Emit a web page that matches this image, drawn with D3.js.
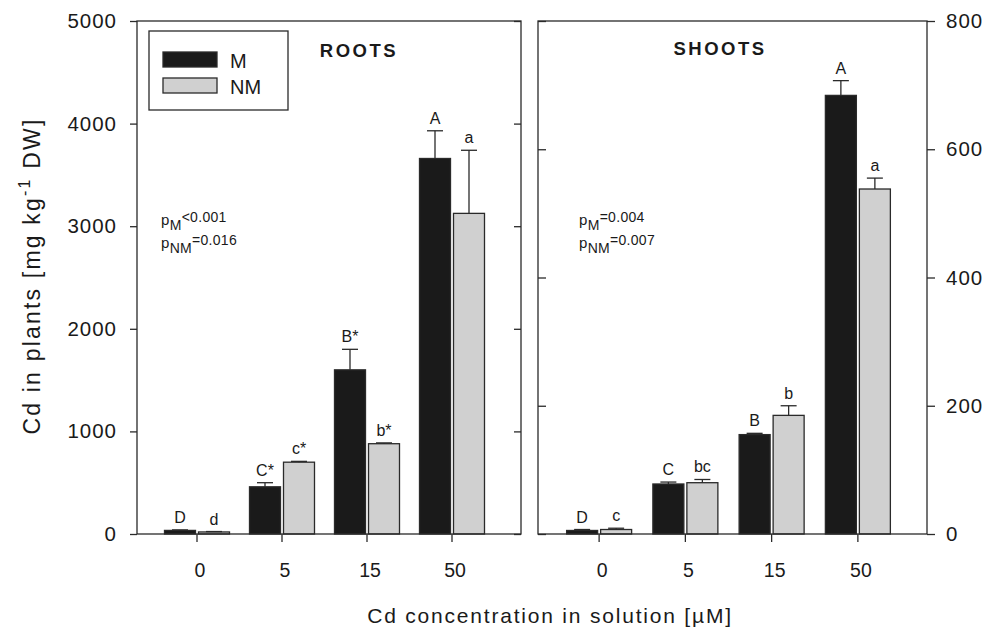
<!DOCTYPE html>
<html>
<head>
<meta charset="utf-8">
<script src="https://cdn.jsdelivr.net/npm/d3@7"></script>
<style>
  body { margin: 0; background: #fff; }
  svg text { font-family: "Liberation Sans", Arial, sans-serif; fill: #1a1a1a; }
</style>
</head>
<body>
<div class="container"></div>
<script>
const WIDTH = 987
const HEIGHT = 636

const concentrations = ['0', '5', '15', '50']
const groups = ['M', 'NM']

const rootsM = [35, 460, 1600, 3660]
const rootsMErr = [5, 40, 200, 270]
const rootsNM = [20, 700, 880, 3125]
const rootsNMErr = [4, 8, 8, 615]
const rootsMLetters = ['D', 'C*', 'B*', 'A']
const rootsNMLetters = ['d', 'c*', 'b*', 'a']

const shootsM = [5.5, 78, 155, 684]
const shootsMErr = [1.5, 3, 2, 23]
const shootsNM = [7, 80, 185, 538]
const shootsNMErr = [2, 5, 15, 17]
const shootsMLetters = ['D', 'C', 'B', 'A']
const shootsNMLetters = ['c', 'bc', 'b', 'a']

const rootsTicks = [0, 1000, 2000, 3000, 4000, 5000]
const shootsTicks = [0, 200, 400, 600, 800]

const COLORS = { M: '#1a1a1a', NM: '#d0d0d0' }
const LINE = '#2a2a2a'

const TOP = 21
const BOTTOM = 534

const svg = d3.select('.container')
  .append('svg')
  .attr('xmlns', 'http://www.w3.org/2000/svg')
  .attr('width', WIDTH)
  .attr('height', HEIGHT)

const rows = (m, mErr, nm, nmErr, mL, nmL) => concentrations.map((c, i) => [
  { c, g: 'M', v: m[i], e: mErr[i], label: mL[i] },
  { c, g: 'NM', v: nm[i], e: nmErr[i], label: nmL[i] }
]).flat()

const panels = [
  {
    name: 'ROOTS', left: 137, right: 521, band: [154.5, 494.5], max: 5000, ticks: rootsTicks,
    data: rows(rootsM, rootsMErr, rootsNM, rootsNMErr, rootsMLetters, rootsNMLetters),
    titleX: 359, titleY: 57, pX: 161, pLines: [['M', '<0.001'], ['NM', '=0.016']]
  },
  {
    name: 'SHOOTS', left: 538, right: 927, band: [556, 901], max: 800, ticks: shootsTicks,
    data: rows(shootsM, shootsMErr, shootsNM, shootsNMErr, shootsMLetters, shootsNMLetters),
    titleX: 720, titleY: 55, pX: 579, pLines: [['M', '=0.004'], ['NM', '=0.007']]
  }
]

const sub = d3.scaleBand().domain(groups).range([-32.5, 32.5]).paddingInner(3 / 34)

panels.forEach((p, pi) => {
  const y = d3.scaleLinear().domain([0, p.max]).range([BOTTOM, TOP])
  const x = d3.scaleBand().domain(concentrations).range(p.band)
  const cx = c => x(c) + x.bandwidth() / 2

  const g = svg.append('g')

  // bars
  g.selectAll('rect.bar')
    .data(p.data)
    .join('rect')
    .attr('class', 'bar')
    .attr('x', d => cx(d.c) + sub(d.g))
    .attr('y', d => y(d.v))
    .attr('width', sub.bandwidth())
    .attr('height', d => BOTTOM - y(d.v))
    .attr('fill', d => COLORS[d.g])
    .attr('stroke', LINE)
    .attr('stroke-width', 1.3)

  // error bars (upper only)
  const err = g.selectAll('g.err').data(p.data).join('g').attr('class', 'err')
    .attr('stroke', LINE).attr('stroke-width', 1.3)
  err.append('line')
    .attr('x1', d => cx(d.c) + sub(d.g) + sub.bandwidth() / 2)
    .attr('x2', d => cx(d.c) + sub(d.g) + sub.bandwidth() / 2)
    .attr('y1', d => y(d.v))
    .attr('y2', d => y(d.v + d.e))
  err.append('line')
    .attr('x1', d => cx(d.c) + sub(d.g) + sub.bandwidth() / 2 - 8)
    .attr('x2', d => cx(d.c) + sub(d.g) + sub.bandwidth() / 2 + 8)
    .attr('y1', d => y(d.v + d.e))
    .attr('y2', d => y(d.v + d.e))

  // significance letters
  g.selectAll('text.letter')
    .data(p.data)
    .join('text')
    .attr('class', 'letter')
    .attr('x', d => cx(d.c) + sub(d.g) + sub.bandwidth() / 2)
    .attr('y', d => y(d.v + d.e) - 7)
    .attr('text-anchor', 'middle')
    .style('font-size', '16px')
    .text(d => d.label)

  // frame
  g.append('rect')
    .attr('x', p.left).attr('y', TOP)
    .attr('width', p.right - p.left).attr('height', BOTTOM - TOP)
    .attr('fill', 'none').attr('stroke', LINE).attr('stroke-width', 1.3)

  // x axis
  const xAxis = g.append('g')
    .attr('transform', `translate(0,${BOTTOM})`)
    .call(d3.axisBottom(x).tickSize(8).tickSizeOuter(0).tickPadding(21))
  xAxis.select('.domain').remove()
  xAxis.selectAll('text').attr('dx', 3).style('font-size', '19.5px')

  // y axes: labelled side outward, other side inward
  if (pi === 0) {
    const yAxis = g.append('g')
      .attr('transform', `translate(${p.left},0)`)
      .call(d3.axisLeft(y).tickValues(p.ticks).tickFormat(d3.format('d'))
        .tickSize(7).tickSizeOuter(0).tickPadding(13))
    yAxis.selectAll('text').style('font-size', '20.5px').style('letter-spacing', '1px')
    g.append('g')
      .attr('transform', `translate(${p.right},0)`)
      .call(d3.axisLeft(y).tickValues(p.ticks).tickSize(7).tickSizeOuter(0).tickFormat(''))
  } else {
    const yAxis = g.append('g')
      .attr('transform', `translate(${p.right},0)`)
      .call(d3.axisRight(y).tickValues(p.ticks).tickFormat(d3.format('d'))
        .tickSize(8).tickSizeOuter(0).tickPadding(11))
    yAxis.selectAll('text').style('font-size', '20.5px').style('letter-spacing', '1px')
    g.append('g')
      .attr('transform', `translate(${p.left},0)`)
      .call(d3.axisRight(y).tickValues(p.ticks).tickSize(8).tickSizeOuter(0).tickFormat(''))
  }
  g.selectAll('.domain').remove()
  g.selectAll('.tick line').attr('stroke', LINE).attr('stroke-width', 1.3)
  g.selectAll('.tick text').attr('fill', '#1a1a1a')

  // panel title
  g.append('text')
    .attr('x', p.titleX).attr('y', p.titleY)
    .attr('text-anchor', 'middle')
    .style('font-size', '18.5px').style('font-weight', 'bold').style('letter-spacing', '2.5px')
    .text(p.name)

  // p values
  p.pLines.forEach((l, i) => {
    const t = g.append('text')
      .attr('x', p.pX).attr('y', 225 + i * 23)
      .style('font-size', '15px').style('letter-spacing', '0.3px')
    t.append('tspan').text('p')
    t.append('tspan').attr('dy', 5).style('font-size', '14px').text(l[0])
    t.append('tspan').attr('dy', -8).style('font-size', '14px').text(l[1])
  })
})

// legend
const legend = svg.append('g')
legend.append('rect')
  .attr('x', 149).attr('y', 31).attr('width', 139).attr('height', 79)
  .attr('fill', '#fff').attr('stroke', LINE).attr('stroke-width', 1.3)
groups.forEach((k, i) => {
  legend.append('rect')
    .attr('x', 163).attr('y', 52 + i * 26).attr('width', 54).attr('height', 15)
    .attr('fill', COLORS[k]).attr('stroke', LINE).attr('stroke-width', 1.3)
  legend.append('text')
    .attr('x', 230).attr('y', 68 + i * 26)
    .style('font-size', '20px')
    .text(k)
})

// axis titles
const yTitle = svg.append('text')
  .attr('transform', 'translate(40,276) rotate(-90)')
  .attr('text-anchor', 'middle')
  .style('font-size', '23px').style('letter-spacing', '2.2px')
yTitle.append('tspan').text('Cd in plants [mg kg')
yTitle.append('tspan').attr('dy', -10).style('font-size', '16px').text('-1')
yTitle.append('tspan').attr('dy', 10).text(' DW]')

svg.append('text')
  .attr('x', 550).attr('y', 623)
  .attr('text-anchor', 'middle')
  .style('font-size', '21px').style('letter-spacing', '1.8px')
  .text('Cd concentration in solution [\u00b5M]')
</script>
</body>
</html>
